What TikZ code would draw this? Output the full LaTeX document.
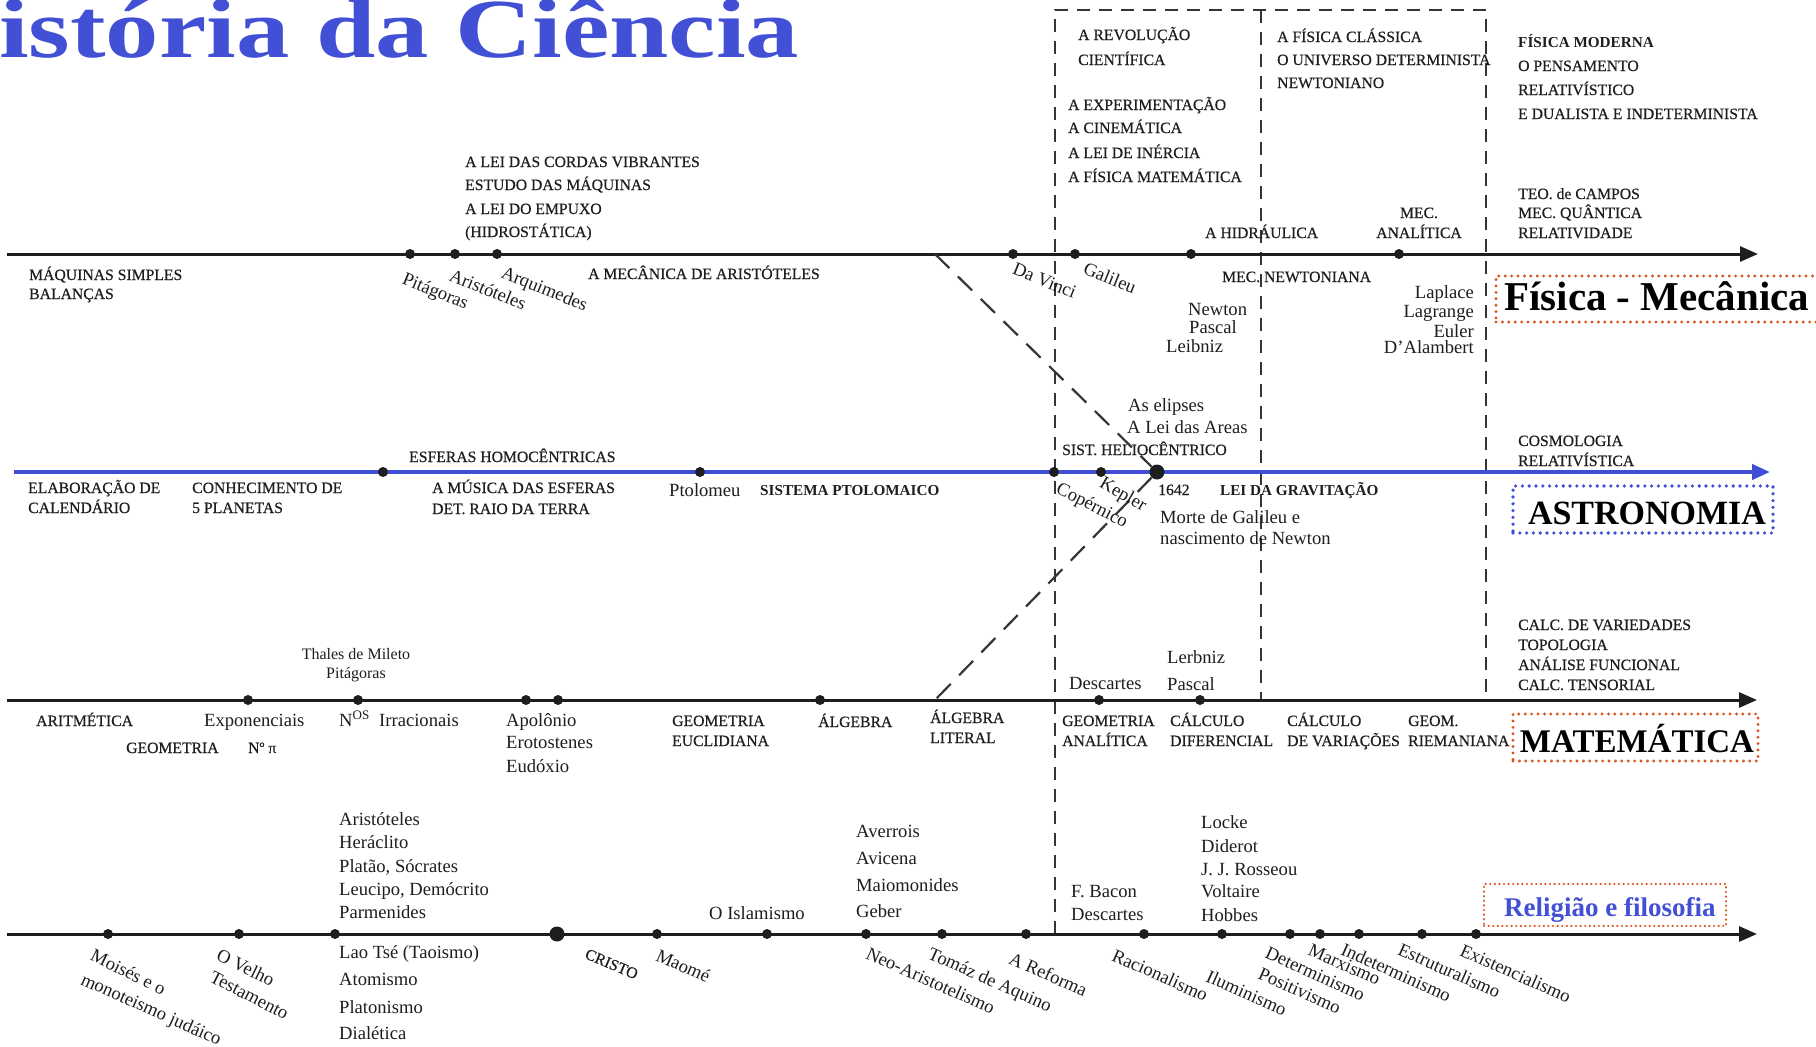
\documentclass[tikz,border=0pt]{standalone}
\usepackage{graphicx}
\usepackage{fontspec}
\setmainfont{Liberation Serif}
\newfontfamily\ucfont[FakeBold=0.4]{Liberation Serif}
\usetikzlibrary{arrows.meta}
\definecolor{ink}{HTML}{1E1E1E}
\definecolor{tblue}{HTML}{4250D6}
\definecolor{lblue}{HTML}{3F4ED6}
\definecolor{dorange}{HTML}{D9531A}
\tikzset{
 uc/.style={font=\ucfont\fontsize{15.7}{18}\selectfont, text=ink, inner sep=0pt, anchor=base west},
 ucc/.style={uc, anchor=base},
 ucb/.style={font=\fontsize{15.2}{18}\selectfont\bfseries, text=ink, inner sep=0pt, anchor=base west},
 nm/.style={font=\fontsize{18.6}{21}\selectfont, text=ink, inner sep=0pt, anchor=base west},
 nmr/.style={nm, anchor=base east},
 nmsm/.style={font=\fontsize{16}{18}\selectfont, text=ink, inner sep=0pt, anchor=base},
 rl/.style={nm, anchor=north west, rotate=#1},
 rluc/.style={uc, anchor=north west, rotate=#1},
 tline/.style={line width=3pt, draw=ink, -{Triangle[length=18pt,width=15pt]}},
 bline/.style={line width=4pt, draw=lblue, -{Triangle[length=18pt,width=15pt]}},
 tdot/.style={circle, fill=ink, inner sep=0pt, minimum size=10pt},
 bigdot/.style={circle, fill=ink, inner sep=0pt, minimum size=15pt},
 dsh/.style={line width=2pt, draw=ink!90, dash pattern=on 13pt off 9pt},
 dshd/.style={line width=2.2pt, draw=ink!90, dash pattern=on 20pt off 12pt},
 obox/.style={draw=dorange, line width=3.2pt, dash pattern=on 0pt off 6.4pt, line cap=round, inner sep=0pt},
 bbox/.style={draw=lblue, line width=3.6pt, dash pattern=on 0pt off 6.8pt, line cap=round, inner sep=0pt},
 big/.style={font=\fontsize{#1}{#1}\selectfont\bfseries, text=black, inner sep=0pt}
}
\begin{document}
\begin{tikzpicture}[x=1pt,y=-1pt]
\useasboundingbox (0,0) rectangle (1816,1047);
\clip (0,0) rectangle (1816,1047);
\fill[white] (0,0) rectangle (1816,1047);

% title
\node[anchor=base west, inner sep=0pt, text=tblue, font=\fontsize{84}{84}\selectfont\bfseries] (title) at (-84,57) {\scalebox{1.27}[1]{História da Ciência}};

% dashed frame
\coordinate (bTL) at (1055,10); \coordinate (bTM) at (1261,10); \coordinate (bTR) at (1486,10);
\coordinate (bL) at (1055,934); \coordinate (bM) at (1261,700); \coordinate (bR) at (1486,700);
\draw[dsh] (bL) -- (bTL) -- (bTR) -- (bR);
\draw[dsh] (bTM) -- (bM);

% timelines
\coordinate (pS) at (7,254); \coordinate (pE) at (1758,254);
\coordinate (aS) at (14,472); \coordinate (aE) at (1770,472);
\coordinate (mS) at (7,700); \coordinate (mE) at (1757,700);
\coordinate (rS) at (7,934); \coordinate (rE) at (1757,934);
\draw[tline] (pS) -- (pE);
\draw[bline] (aS) -- (aE);
\draw[tline] (mS) -- (mE);
\draw[tline] (rS) -- (rE);

% dots physics
\foreach \n/\x in {p1/410,p2/455,p3/497,p4/1013,p5/1075,p6/1191,p7/1399}
  \node[tdot] (\n) at (\x,254) {};
% dots astronomy
\foreach \n/\x in {a1/383,a2/700,a3/1054,a4/1101}
  \node[tdot] (\n) at (\x,472) {};
\node[bigdot] (a5) at (1157,472) {};
% dots math
\foreach \n/\x in {m1/248,m2/358,m3/526,m4/558,m5/820,m6/1099,m7/1200}
  \node[tdot] (\n) at (\x,700) {};
% dots religion
\foreach \n/\x in {r1/108,r2/239,r3/335,r5/657,r6/767,r7/866,r8/942,r9/1026,r10/1144,r11/1222,r12/1290,r13/1320,r14/1359,r15/1422,r16/1476}
  \node[tdot] (\n) at (\x,934) {};
\node[bigdot] (r4) at (557,934) {};

% diagonal dashed connectors
\coordinate (dA) at (935,254); \coordinate (dB) at (935,700);
\draw[dshd] (dA) -- (a5);
\draw[dshd] (a5) -- (dB);

% ---------- Physics texts
\node[uc] (pt1) at (465,167) {A LEI DAS CORDAS VIBRANTES};
\node[uc] (pt2) at (465,190) {ESTUDO DAS MÁQUINAS};
\node[uc] (pt3) at (465,214) {A LEI DO EMPUXO};
\node[uc] (pt4) at (465,237) {(HIDROSTÁTICA)};
\node[uc] (pt5) at (29,280) {MÁQUINAS SIMPLES};
\node[uc] (pt6) at (29,299) {BALANÇAS};
\node[uc] (pt7) at (588,279) {A MECÂNICA DE ARISTÓTELES};
\node[uc] (pt8) at (1078,40) {A REVOLUÇÃO};
\node[uc] (pt9) at (1078,65) {CIENTÍFICA};
\node[uc] (pt10) at (1068,110) {A EXPERIMENTAÇÃO};
\node[uc] (pt11) at (1068,133) {A CINEMÁTICA};
\node[uc] (pt12) at (1068,158) {A LEI DE INÉRCIA};
\node[uc] (pt13) at (1068,182) {A FÍSICA MATEMÁTICA};
\node[uc] (pt14) at (1277,42) {A FÍSICA CLÁSSICA};
\node[uc] (pt15) at (1277,65) {O UNIVERSO DETERMINISTA};
\node[uc] (pt16) at (1277,88) {NEWTONIANO};
\node[ucb] (pt17) at (1518,47) {FÍSICA MODERNA};
\node[uc] (pt18) at (1518,71) {O PENSAMENTO};
\node[uc] (pt19) at (1518,95) {RELATIVÍSTICO};
\node[uc] (pt20) at (1518,119) {E DUALISTA E INDETERMINISTA};
\node[uc] (pt21) at (1518,199) {TEO. de CAMPOS};
\node[uc] (pt22) at (1518,218) {MEC. QUÂNTICA};
\node[uc] (pt23) at (1518,238) {RELATIVIDADE};
\node[uc] (pt24) at (1205,238) {A HIDRÁULICA};
\node[ucc] (pt25) at (1419,218) {MEC.};
\node[ucc] (pt26) at (1419,238) {ANALÍTICA};
\node[uc] (pt27) at (1222,282) {MEC. NEWTONIANA};
\node[nm] (pt28) at (1188,315) {Newton};
\node[nm] (pt29) at (1189,333) {Pascal};
\node[nm] (pt30) at (1166,352) {Leibniz};
\node[nmr] (pt31) at (1474,298) {Laplace};
\node[nmr] (pt32) at (1474,317) {Lagrange};
\node[nmr] (pt33) at (1474,337) {Euler};
\node[nmr] (pt34) at (1474,353) {D'Alambert};
\node[rl=-22] (pt35) at (406,271) {Pitágoras};
\node[rl=-22] (pt36) at (453,268) {Aristóteles};
\node[rl=-22] (pt37) at (505,265) {Arquimedes};
\node[rl=-22] (pt38) at (1016,262) {Da Vinci};
\node[rl=-22] (pt39) at (1087,261) {Galileu};

% ---------- Astronomy texts
\node[uc] (at1) at (409,462) {ESFERAS HOMOCÊNTRICAS};
\node[uc] (at2) at (28,493) {ELABORAÇÃO DE};
\node[uc] (at3) at (28,513) {CALENDÁRIO};
\node[uc] (at4) at (192,493) {CONHECIMENTO DE};
\node[uc] (at5) at (192,513) {5 PLANETAS};
\node[uc] (at6) at (432,493) {A MÚSICA DAS ESFERAS};
\node[uc] (at7) at (432,514) {DET. RAIO DA TERRA};
\node[nm] (at8) at (669,496) {Ptolomeu};
\node[ucb] (at9) at (760,495) {SISTEMA PTOLOMAICO};
\node[nm] (at10) at (1128,411) {As elipses};
\node[nm] (at11) at (1127,433) {A Lei das Areas};
\node[uc] (at12) at (1062,455) {SIST. HELIOCÊNTRICO};
\node[uc] (at13) at (1158,495) {1642};
\node[ucb] (at14) at (1220,495) {LEI DA GRAVITAÇÃO};
\node[nm] (at15) at (1160,523) {Morte de Galileu e};
\node[nm] (at16) at (1160,544) {nascimento de Newton};
\node[uc] (at17) at (1518,446) {COSMOLOGIA};
\node[uc] (at18) at (1518,466) {RELATIVÍSTICA};
\node[rl=-27] (at19) at (1061,481) {Copérnico};
\node[rl=-30] (at20) at (1105,475) {Kepler};

% ---------- Math texts
\node[nmsm] (mt1) at (356,659) {Thales de Mileto};
\node[nmsm] (mt2) at (356,678) {Pitágoras};
\node[uc] (mt3) at (36,726) {ARITMÉTICA};
\node[uc] (mt4) at (126,753) {GEOMETRIA};
\node[nm] (mt5) at (204,726) {Exponenciais};
\node[uc] (mt6) at (248,753) {Nº π};
\node[nm] (mt7) at (339,726) {N\textsuperscript{OS}};
\node[nm] (mt8) at (379,726) {Irracionais};
\node[nm] (mt9) at (506,726) {Apolônio};
\node[nm] (mt10) at (506,748) {Erotostenes};
\node[nm] (mt11) at (506,772) {Eudóxio};
\node[uc] (mt12) at (672,726) {GEOMETRIA};
\node[uc] (mt13) at (672,746) {EUCLIDIANA};
\node[uc] (mt14) at (818,727) {ÁLGEBRA};
\node[uc] (mt15) at (930,723) {ÁLGEBRA};
\node[uc] (mt16) at (930,743) {LITERAL};
\node[nm] (mt17) at (1069,689) {Descartes};
\node[nm] (mt18) at (1167,663) {Lerbniz};
\node[nm] (mt19) at (1167,690) {Pascal};
\node[uc] (mt20) at (1062,726) {GEOMETRIA};
\node[uc] (mt21) at (1062,746) {ANALÍTICA};
\node[uc] (mt22) at (1170,726) {CÁLCULO};
\node[uc] (mt23) at (1170,746) {DIFERENCIAL};
\node[uc] (mt24) at (1287,726) {CÁLCULO};
\node[uc] (mt25) at (1287,746) {DE VARIAÇÕES};
\node[uc] (mt26) at (1408,726) {GEOM.};
\node[uc] (mt27) at (1408,746) {RIEMANIANA};
\node[uc] (mt28) at (1518,630) {CALC. DE VARIEDADES};
\node[uc] (mt29) at (1518,650) {TOPOLOGIA};
\node[uc] (mt30) at (1518,670) {ANÁLISE FUNCIONAL};
\node[uc] (mt31) at (1518,690) {CALC. TENSORIAL};

% ---------- Religion texts
\node[nm] (rt1) at (339,825) {Aristóteles};
\node[nm] (rt2) at (339,848) {Heráclito};
\node[nm] (rt3) at (339,872) {Platão, Sócrates};
\node[nm] (rt4) at (339,895) {Leucipo, Demócrito};
\node[nm] (rt5) at (339,918) {Parmenides};
\node[nm] (rt6) at (339,958) {Lao Tsé (Taoismo)};
\node[nm] (rt7) at (339,985) {Atomismo};
\node[nm] (rt8) at (339,1013) {Platonismo};
\node[nm] (rt9) at (339,1039) {Dialética};
\node[nm] (rt10) at (709,919) {O Islamismo};
\node[nm] (rt11) at (856,837) {Averrois};
\node[nm] (rt12) at (856,864) {Avicena};
\node[nm] (rt13) at (856,891) {Maiomonides};
\node[nm] (rt14) at (856,917) {Geber};
\node[nm] (rt15) at (1071,897) {F. Bacon};
\node[nm] (rt16) at (1071,920) {Descartes};
\node[nm] (rt17) at (1201,828) {Locke};
\node[nm] (rt18) at (1201,852) {Diderot};
\node[nm] (rt19) at (1201,875) {J. J. Rosseou};
\node[nm] (rt20) at (1201,897) {Voltaire};
\node[nm] (rt21) at (1201,921) {Hobbes};
\node[rl=-26] (rt22) at (95,948) {Moisés e o};
\node[rl=-24] (rt23) at (85,972) {monoteismo judáico};
\node[rl=-26] (rt24) at (221,948) {O Velho};
\node[rl=-27] (rt25) at (214,970) {Testamento};
\node[rluc=-23] (rt26) at (588,948) {CRISTO};
\node[rl=-24] (rt27) at (660,948) {Maomé};
\node[rl=-24] (rt28) at (870,946) {Neo-Aristotelismo};
\node[rl=-24] (rt29) at (932,946) {Tomáz de Aquino};
\node[rl=-24] (rt30) at (1013,951) {A Reforma};
\node[rl=-24] (rt31) at (1116,948) {Racionalismo};
\node[rl=-24] (rt32) at (1210,969) {Iluminismo};
\node[rl=-24] (rt33) at (1262,967) {Positivismo};
\node[rl=-24] (rt34) at (1269,946) {Determinismo};
\node[rl=-24] (rt35) at (1312,943) {Marxismo};
\node[rl=-24] (rt36) at (1345,942) {Indeterminismo};
\node[rl=-24] (rt37) at (1402,942) {Estruturalismo};
\node[rl=-24] (rt38) at (1464,943) {Existencialismo};

% ---------- Big labels
\node[obox, minimum width=340pt, minimum height=46pt] (fisbox) at (1666,299) {};
\node[big=41, anchor=base west] (fis) at (1504,310) {Física - Mecânica};
\node[bbox, minimum width=260pt, minimum height=47pt] (astbox) at (1643,509.5) {};
\node[big=34, anchor=base] (ast) at (1647,524) {ASTRONOMIA};
\node[obox, minimum width=245pt, minimum height=47pt] (matbox) at (1635.5,737.5) {};
\node[big=33, anchor=base] (mat) at (1637,752) {MATEMÁTICA};
\node[obox, line width=2.4pt, dash pattern=on 0pt off 4.6pt, minimum width=242pt, minimum height=42pt] (relbox) at (1605,905) {};
\node[big=27, text=tblue, anchor=base west] (rel) at (1504,916) {Religião e filosofia};
\end{tikzpicture}
\end{document}
